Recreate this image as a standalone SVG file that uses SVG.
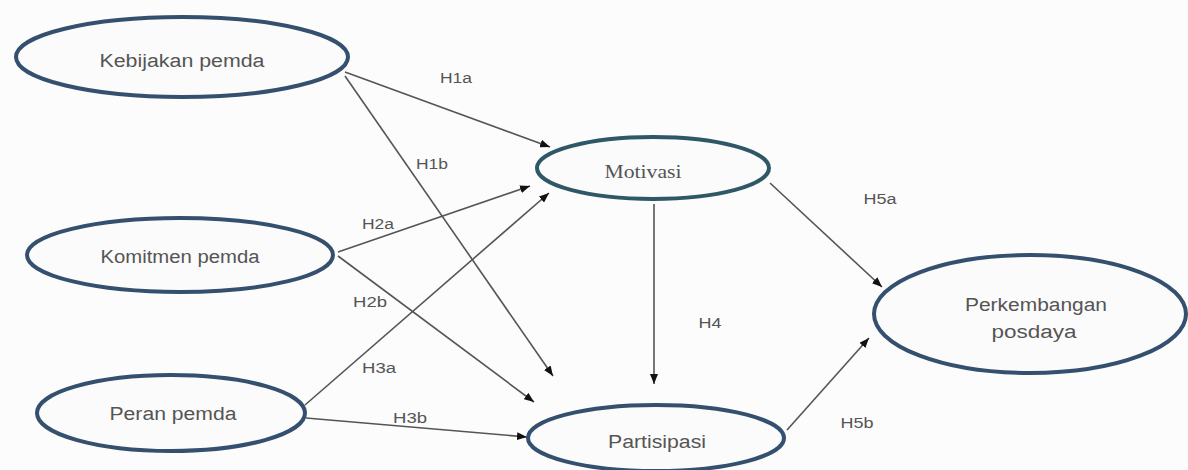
<svg xmlns="http://www.w3.org/2000/svg" width="1188" height="470" viewBox="0 0 1188 470">
<defs>
<marker id="arr" viewBox="0 0 10 8" refX="10" refY="4" markerWidth="10" markerHeight="8" markerUnits="userSpaceOnUse" orient="auto">
<path d="M0,0 L10,4 L0,8 z" fill="#111"/>
</marker>
</defs>
<style>
.node ellipse{fill:#fbfbfb;stroke:#34506e;stroke-width:4}
.node text{font-family:"Liberation Sans",Arial,sans-serif;font-size:18px;fill:#555;text-anchor:middle}
.node text.serif{font-family:"Liberation Serif","Times New Roman",serif}
.edges line{stroke:#555;stroke-width:1.6;marker-end:url(#arr)}
.lbl{font-family:"Liberation Sans",Arial,sans-serif;font-size:14px;fill:#555;text-anchor:middle}
</style>
<rect width="1188" height="470" fill="#fcfcfc"/>
<g class="edges" id="connectors">
<line x1="345" y1="72" x2="550" y2="147"/>
<line x1="345" y1="76" x2="553" y2="376"/>
<line x1="338" y1="252" x2="530" y2="186"/>
<line x1="338" y1="256" x2="534" y2="402"/>
<line x1="305" y1="405" x2="549" y2="193"/>
<line x1="306" y1="418" x2="527" y2="437"/>
<line x1="654" y1="204" x2="654" y2="384"/>
<line x1="770" y1="183" x2="882" y2="287"/>
<line x1="787" y1="430" x2="869" y2="338"/>
<text class="lbl" x="456" y="83" textLength="32" lengthAdjust="spacingAndGlyphs">H1a</text>
<text class="lbl" x="432" y="169" textLength="32" lengthAdjust="spacingAndGlyphs">H1b</text>
<text class="lbl" x="378" y="229" textLength="32" lengthAdjust="spacingAndGlyphs">H2a</text>
<text class="lbl" x="370" y="307" textLength="34" lengthAdjust="spacingAndGlyphs">H2b</text>
<text class="lbl" x="379" y="373" textLength="34" lengthAdjust="spacingAndGlyphs">H3a</text>
<text class="lbl" x="410" y="423" textLength="34" lengthAdjust="spacingAndGlyphs">H3b</text>
<text class="lbl" x="710" y="328" textLength="23" lengthAdjust="spacingAndGlyphs">H4</text>
<text class="lbl" x="880" y="204" textLength="33" lengthAdjust="spacingAndGlyphs">H5a</text>
<text class="lbl" x="857" y="428" textLength="33" lengthAdjust="spacingAndGlyphs">H5b</text>
</g>
<g class="node" id="kebijakan">
<ellipse cx="182" cy="57" rx="166" ry="40"/>
<text x="182" y="67" textLength="165" lengthAdjust="spacingAndGlyphs">Kebijakan pemda</text>
</g>
<g class="node" id="komitmen">
<ellipse cx="180" cy="255" rx="153" ry="37"/>
<text x="180" y="263" textLength="159" lengthAdjust="spacingAndGlyphs">Komitmen pemda</text>
</g>
<g class="node" id="peran">
<ellipse cx="171" cy="413" rx="134" ry="38"/>
<text x="173" y="420" textLength="127" lengthAdjust="spacingAndGlyphs">Peran pemda</text>
</g>
<g class="node" id="motivasi">
<ellipse cx="653" cy="168" rx="116" ry="31" style="stroke:#2f5866"/>
<text class="serif" x="643" y="178" textLength="77" lengthAdjust="spacingAndGlyphs">Motivasi</text>
</g>
<g class="node" id="partisipasi">
<ellipse cx="656" cy="438" rx="128" ry="33"/>
<text x="657" y="448" textLength="98" lengthAdjust="spacingAndGlyphs">Partisipasi</text>
</g>
<g class="node" id="perkembangan">
<ellipse cx="1030" cy="314" rx="156" ry="59"/>
<text x="1036" y="311" textLength="142" lengthAdjust="spacingAndGlyphs">Perkembangan</text>
<text x="1034" y="338" textLength="85" lengthAdjust="spacingAndGlyphs">posdaya</text>
</g>
</svg>
